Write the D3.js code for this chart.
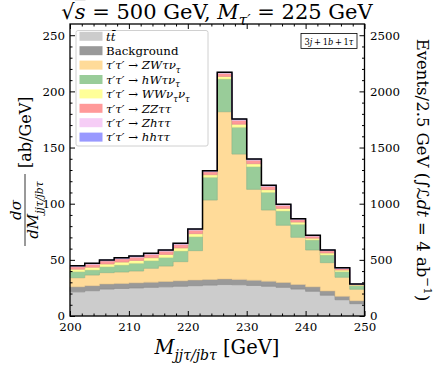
<!DOCTYPE html>
<html>
<head>
<meta charset="utf-8">
<script src="https://cdn.jsdelivr.net/npm/d3@7"></script>
<style>
  body { margin: 0; background: #fff; }
  svg { display: block; }
  text { font-family: "DejaVu Serif", serif; fill: #000; }
</style>
</head>
<body>
<div id="vis"></div>
<script>

// bin lower edges (GeV), width 2.5
const BIN_LO = [200, 202.5, 205, 207.5, 210, 212.5, 215, 217.5, 220, 222.5,
                225, 227.5, 230, 232.5, 235, 237.5, 240, 242.5, 245, 247.5];

// stacked contributions in ab/GeV, bottom to top
const TT  = [21.5, 22.5, 24, 24.5, 25, 25.5, 26, 26.5, 27, 27.5, 28, 27.8, 27.2, 26.5, 25.5, 24, 22, 18.5, 14.5, 11];
const BKG = [4.5, 4.5, 4.5, 4.5, 4.5, 4.6, 4.7, 4.8, 5, 5, 5, 4.8, 4.7, 4.5, 4.3, 4, 4, 3.8, 3, 2.6];
const ZW  = [8.1, 9.5, 10.1, 10.2, 10.6, 12.4, 13.8, 17.1, 26.2, 70.8, 148.9, 111.6, 80.9, 63.4, 51, 42.1, 32.8, 25.2, 17, 10.2];
const HW  = [5.4, 4.5, 5.3, 6.2, 6.8, 6.8, 7.7, 9.5, 12.4, 20.2, 29.1, 23.8, 20.2, 15.7, 12.7, 11.5, 8.9, 6.8, 5, 3.2];
const WW  = [2.2, 2.4, 2.4, 2.6, 2.6, 2.6, 2.6, 2.7, 2.7, 2.3, 2.3, 2.8, 2.6, 2.4, 2.3, 2.0, 1.6, 1.8, 1.4, 0.6];
const ZZ  = [2.2, 2.5, 2.6, 2.8, 2.8, 2.8, 2.9, 3.0, 3.0, 2.6, 2.6, 3.3, 3.0, 2.8, 2.6, 2.2, 1.8, 2.0, 1.5, 0.6];
const ZH  = [0.7, 0.8, 0.8, 0.8, 0.8, 0.8, 0.8, 0.8, 0.9, 0.8, 0.9, 1.0, 0.9, 0.8, 0.8, 0.7, 0.5, 0.5, 0.4, 0.2];
const HH  = [0.2, 0.2, 0.2, 0.3, 0.3, 0.3, 0.3, 0.3, 0.3, 0.2, 0.2, 0.3, 0.3, 0.3, 0.2, 0.2, 0.2, 0.2, 0.2, 0.1];

// tick labels
const X_TICKS = [200, 210, 220, 230, 240, 250];
const Y_TICKS = [0, 50, 100, 150, 200, 250];
const Y2_TICKS = [0, 500, 1000, 1500, 2000, 2500];

const KEYS = ["tt", "bkg", "zw", "hw", "ww", "zz", "zh", "hh"];
const COLORS = {tt: "#cccccc", bkg: "#999999", zw: "#ffdb99", hw: "#99cc99",
                ww: "#ffff99", zz: "#ff9999", zh: "#f6cdf6", hh: "#9999ff"};

// legend labels as math pieces
const LEGEND = [
  {key: "tt",  parts: [{t: "t", i: true}, {t: "t\u0304", i: true}]},
  {key: "bkg", parts: [{t: "Background"}]},
  {key: "zw",  parts: [{t: "τ′τ′", i: true}, {t: " → "}, {t: "ZWτν", i: true}, {t: "τ", i: true, sub: true}]},
  {key: "hw",  parts: [{t: "τ′τ′", i: true}, {t: " → "}, {t: "hWτν", i: true}, {t: "τ", i: true, sub: true}]},
  {key: "ww",  parts: [{t: "τ′τ′", i: true}, {t: " → "}, {t: "WWν", i: true}, {t: "τ", i: true, sub: true}, {t: "ν", i: true}, {t: "τ", i: true, sub: true}]},
  {key: "zz",  parts: [{t: "τ′τ′", i: true}, {t: " → "}, {t: "ZZττ", i: true}]},
  {key: "zh",  parts: [{t: "τ′τ′", i: true}, {t: " → "}, {t: "Zhττ", i: true}]},
  {key: "hh",  parts: [{t: "τ′τ′", i: true}, {t: " → "}, {t: "hhττ", i: true}]}
];

// frame constants
const FRAME_WIDTH = 436;
const FRAME_HEIGHT = 367;
const PLOT = {left: 70, right: 364.5, top: 24, bottom: 316};

const FRAME = d3.select("#vis")
                .append("svg")
                  .attr("width", FRAME_WIDTH)
                  .attr("height", FRAME_HEIGHT);

const X_SCALE = d3.scaleLinear().domain([200, 250]).range([PLOT.left, PLOT.right]);
const Y_SCALE = d3.scaleLinear().domain([0, 260]).range([PLOT.bottom, PLOT.top]);
const Y2_SCALE = d3.scaleLinear().domain([0, 2600]).range([PLOT.bottom, PLOT.top]);

// rows for the stack, plus a closing row at the last edge for the step
const ROWS = BIN_LO.map((lo, i) => ({lo: lo, tt: TT[i], bkg: BKG[i], zw: ZW[i], hw: HW[i],
                                     ww: WW[i], zz: ZZ[i], zh: ZH[i], hh: HH[i]}));
ROWS.push(Object.assign({}, ROWS[ROWS.length - 1], {lo: 250}));

const STACK = d3.stack().keys(KEYS)(ROWS);

const AREA = d3.area()
               .curve(d3.curveStepAfter)
               .x((d) => X_SCALE(d.data.lo))
               .y0((d) => Y_SCALE(d[0]))
               .y1((d) => Y_SCALE(d[1]));

FRAME.selectAll(".layer")
    .data(STACK)
    .enter()
    .append("path")
      .attr("class", "layer")
      .attr("d", AREA)
      .attr("fill", (d) => COLORS[d.key])
      .attr("stroke", (d) => d3.color(COLORS[d.key]).darker(0.3))
      .attr("stroke-width", 0.6);

// black outline on the total
const TOTAL_LINE = d3.line()
                     .curve(d3.curveStepAfter)
                     .x((d) => X_SCALE(d.data.lo))
                     .y((d) => Y_SCALE(d[1]));

FRAME.append("path")
    .attr("d", TOTAL_LINE(STACK[STACK.length - 1]))
    .attr("fill", "none")
    .attr("stroke", "#000")
    .attr("stroke-width", 1.5);

// axes with inward ticks
function addAxis(axis, tx, ty) {
  const g = FRAME.append("g")
                 .attr("transform", "translate(" + tx + "," + ty + ")")
                 .call(axis)
                 .attr("font-size", 11.8);
  g.select(".domain").remove();
  g.selectAll("line").attr("stroke", "#000").attr("stroke-width", 1);
  return g;
}

const X_MINOR = d3.range(202, 250, 2).filter((v) => v % 10 !== 0);
const Y_MINOR = d3.range(10, 260, 10).filter((v) => v % 50 !== 0);
const Y2_MINOR = Y_MINOR.map((v) => v * 10);

addAxis(d3.axisBottom(X_SCALE).tickValues(X_TICKS).tickSize(-5).tickPadding(7), 0, PLOT.bottom);
addAxis(d3.axisBottom(X_SCALE).tickValues(X_MINOR).tickSize(-2.5).tickFormat(""), 0, PLOT.bottom);
addAxis(d3.axisTop(X_SCALE).tickValues(X_TICKS).tickSize(-5).tickFormat(""), 0, PLOT.top);
addAxis(d3.axisTop(X_SCALE).tickValues(X_MINOR).tickSize(-2.5).tickFormat(""), 0, PLOT.top);
addAxis(d3.axisLeft(Y_SCALE).tickValues(Y_TICKS).tickSize(-5).tickPadding(5), PLOT.left, 0);
addAxis(d3.axisLeft(Y_SCALE).tickValues(Y_MINOR).tickSize(-2.5).tickFormat(""), PLOT.left, 0);
addAxis(d3.axisRight(Y2_SCALE).tickValues(Y2_TICKS).tickSize(-5).tickPadding(5.5).tickFormat(d3.format("d")), PLOT.right, 0);
addAxis(d3.axisRight(Y2_SCALE).tickValues(Y2_MINOR).tickSize(-2.5).tickFormat(""), PLOT.right, 0);

// plot frame
FRAME.append("rect")
    .attr("x", PLOT.left)
    .attr("y", PLOT.top)
    .attr("width", PLOT.right - PLOT.left)
    .attr("height", PLOT.bottom - PLOT.top)
    .attr("fill", "none")
    .attr("stroke", "#000")
    .attr("stroke-width", 1.3);

// helper to write math-like text with italics, sub and superscripts
function mathText(sel, parts, size) {
  let shift = 0;
  parts.forEach((p) => {
    const target = p.sub ? size * 0.3 : (p.sup ? -size * 0.4 : 0);
    const ts = sel.append("tspan")
                  .text(p.t)
                  .attr("dy", target - shift)
                  .style("font-size", ((p.sub || p.sup) ? size * 0.72 : size) + "px")
                  .style("font-style", p.i ? "italic" : "normal");
    if (p.over) { ts.style("text-decoration", "overline"); }
    if (p.font) { ts.style("font-family", p.font); }
    shift = target;
  });
  return sel;
}

// legend
const LEG = FRAME.append("g");
LEG.append("rect")
    .attr("x", 76).attr("y", 30.5)
    .attr("width", 132).attr("height", 115.5)
    .attr("rx", 2)
    .attr("fill", "#fff").attr("fill-opacity", 0.8)
    .attr("stroke", "#d0d0d0").attr("stroke-width", 1);

LEGEND.forEach((d, i) => {
  const cy = 36.3 + i * 14.4;
  LEG.append("rect")
      .attr("x", 79.5).attr("y", cy - 4.5)
      .attr("width", 23).attr("height", 9)
      .attr("fill", COLORS[d.key]);
  mathText(LEG.append("text").attr("x", 106).attr("y", cy + 4.2), d.parts, 11.8);
});

// channel box
FRAME.append("rect")
    .attr("x", 301).attr("y", 33.5)
    .attr("width", 56).attr("height", 15)
    .attr("fill", "#fff").attr("stroke", "#000").attr("stroke-width", 0.8);
mathText(FRAME.append("text").attr("x", 329).attr("y", 44.5).attr("text-anchor", "middle"),
         [{t: "3"}, {t: "j", i: true}, {t: "\u2009+\u20091"}, {t: "b", i: true},
          {t: "\u2009+\u20091"}, {t: "τ", i: true}], 8.3);

// title
mathText(FRAME.append("text").attr("x", 217).attr("y", 19).attr("text-anchor", "middle"),
         [{t: "√"}, {t: "s", i: true, over: true}, {t: " = 500 GeV, "}, {t: "M", i: true},
          {t: "τ′", i: true, sub: true}, {t: " = 225 GeV"}], 21);

// x label
mathText(FRAME.append("text").attr("x", 217).attr("y", 354).attr("text-anchor", "middle"),
         [{t: "M", i: true}, {t: "jjτ/jbτ", i: true, sub: true}, {t: " [GeV]"}], 19.5);

// left y label: fraction then units, rotated
const YLAB = FRAME.append("g").attr("transform", "translate(31,170) rotate(-90)");
YLAB.append("text").attr("x", -40).attr("y", -10).attr("text-anchor", "middle")
    .call((t) => mathText(t, [{t: "dσ", i: true}], 15));
YLAB.append("line")
    .attr("x1", -76).attr("x2", -4).attr("y1", -6).attr("y2", -6)
    .attr("stroke", "#000").attr("stroke-width", 0.8);
YLAB.append("text").attr("x", -40).attr("y", 7).attr("text-anchor", "middle")
    .call((t) => mathText(t, [{t: "dM", i: true}, {t: "jjτ/jbτ", i: true, sub: true}], 15));
YLAB.append("text").attr("x", 2).attr("y", 0)
    .call((t) => mathText(t, [{t: "[ab/GeV]"}], 16));

// right y label
mathText(FRAME.append("text").attr("text-anchor", "middle")
              .attr("transform", "translate(417,170) rotate(90)"),
         [{t: "Events/2.5 GeV ("}, {t: "∫"}, {t: "ℒ", font: "DejaVu Sans"}, {t: "dt", i: true},
          {t: " = 4 ab"}, {t: "−1", sup: true}, {t: ")"}], 16.5);

</script>
</body>
</html>
